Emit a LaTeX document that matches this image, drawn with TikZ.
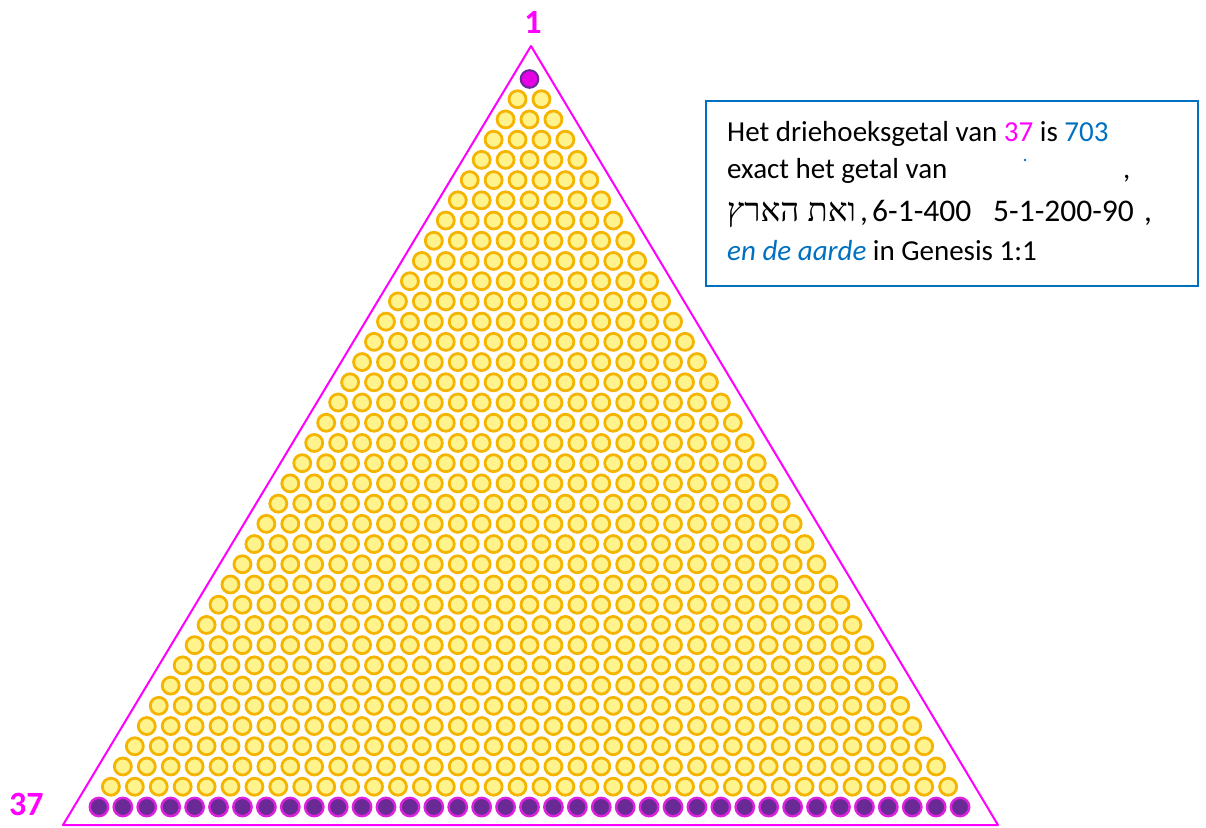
\documentclass[tikz,border=0pt]{standalone}
\usepackage{fontspec}
\setmainfont{Carlito}
\newfontfamily\hebfont[Script=Hebrew]{Liberation Serif}
\TeXXeTstate=1
\definecolor{mag}{HTML}{FF00FF}
\definecolor{txtblue}{HTML}{0070C0}
\definecolor{ringor}{HTML}{F5B400}
\definecolor{fillyel}{HTML}{FFF38E}
\definecolor{purp}{HTML}{6A2A96}
\definecolor{purpedge}{HTML}{DD22DD}
\tikzset{
  txt/.style={inner sep=0pt, anchor=base west, font=\fontsize{29}{34}\selectfont},
  bigtxt/.style={inner sep=0pt, anchor=base west, font=\fontsize{31.5}{36}\selectfont},
  lbl/.style={inner sep=0pt, anchor=base, text=mag, font=\fontsize{34}{40}\selectfont\bfseries},
  yelball/.style={fill=fillyel, draw=ringor, line width=2.8pt},
  purball/.style={fill=purp, draw=purpedge, line width=2.4pt},
  topball/.style={fill=mag!90!black, draw=purp, line width=2pt}
}
\begin{document}
\begin{tikzpicture}[x=1pt,y=-1pt]
\useasboundingbox (0,0) rectangle (1206,827);
% triangle
\coordinate (A) at (531,46);
\coordinate (B) at (63,825);
\coordinate (C) at (998,825);
\draw[mag, line width=2pt, line join=round] (A) -- (B) -- (C) -- cycle;
% balls
\foreach \i in {1,...,35}{
  \foreach \j in {0,...,\i}{
    \draw[yelball] ({529.5+(\j-\i/2)*23.92},{79+\i*20.22}) circle (8.5);
  }
}
\draw[topball] (529.5,79) circle (8.8);
\foreach \j in {0,...,36}{
  \draw[purball] ({529.5+(\j-18)*23.92},807) circle (9.2);
}
% labels
\node[lbl] (one) at (533,33) {1};
\node[lbl, anchor=base west] (thirtyseven) at (9,815) {37};
% text box
\draw[txtblue, line width=2pt] (706,101) rectangle (1198,286);
\node[txt] (l1) at (727,141.7) {Het driehoeksgetal van \textcolor{mag}{37} is \textcolor{txtblue}{703}};
\node[txt] (l2) at (727,178) {exact het getal van};
\fill[txtblue] (1025,160) circle (1.3);
\node[txt] (l2c) at (1123,178) {,};
\node[inner sep=0pt, anchor=base west, font=\fontsize{33}{38}\selectfont] (l3h) at (727,221.7) {\hebfont\beginR ואת הארץ\endR};
\node[bigtxt] (l3comma) at (860,221.7) {,};
\node[bigtxt] (l3a) at (872,221.7) {6-1-400};
\node[bigtxt] (l3b) at (993,221.7) {5-1-200-90};
\node[bigtxt] (l3c) at (1144,221.7) {,};
\node[txt] (l4) at (727,260.7) {\textcolor{txtblue}{\itshape en de aarde} in Genesis 1:1};
\end{tikzpicture}
\end{document}
